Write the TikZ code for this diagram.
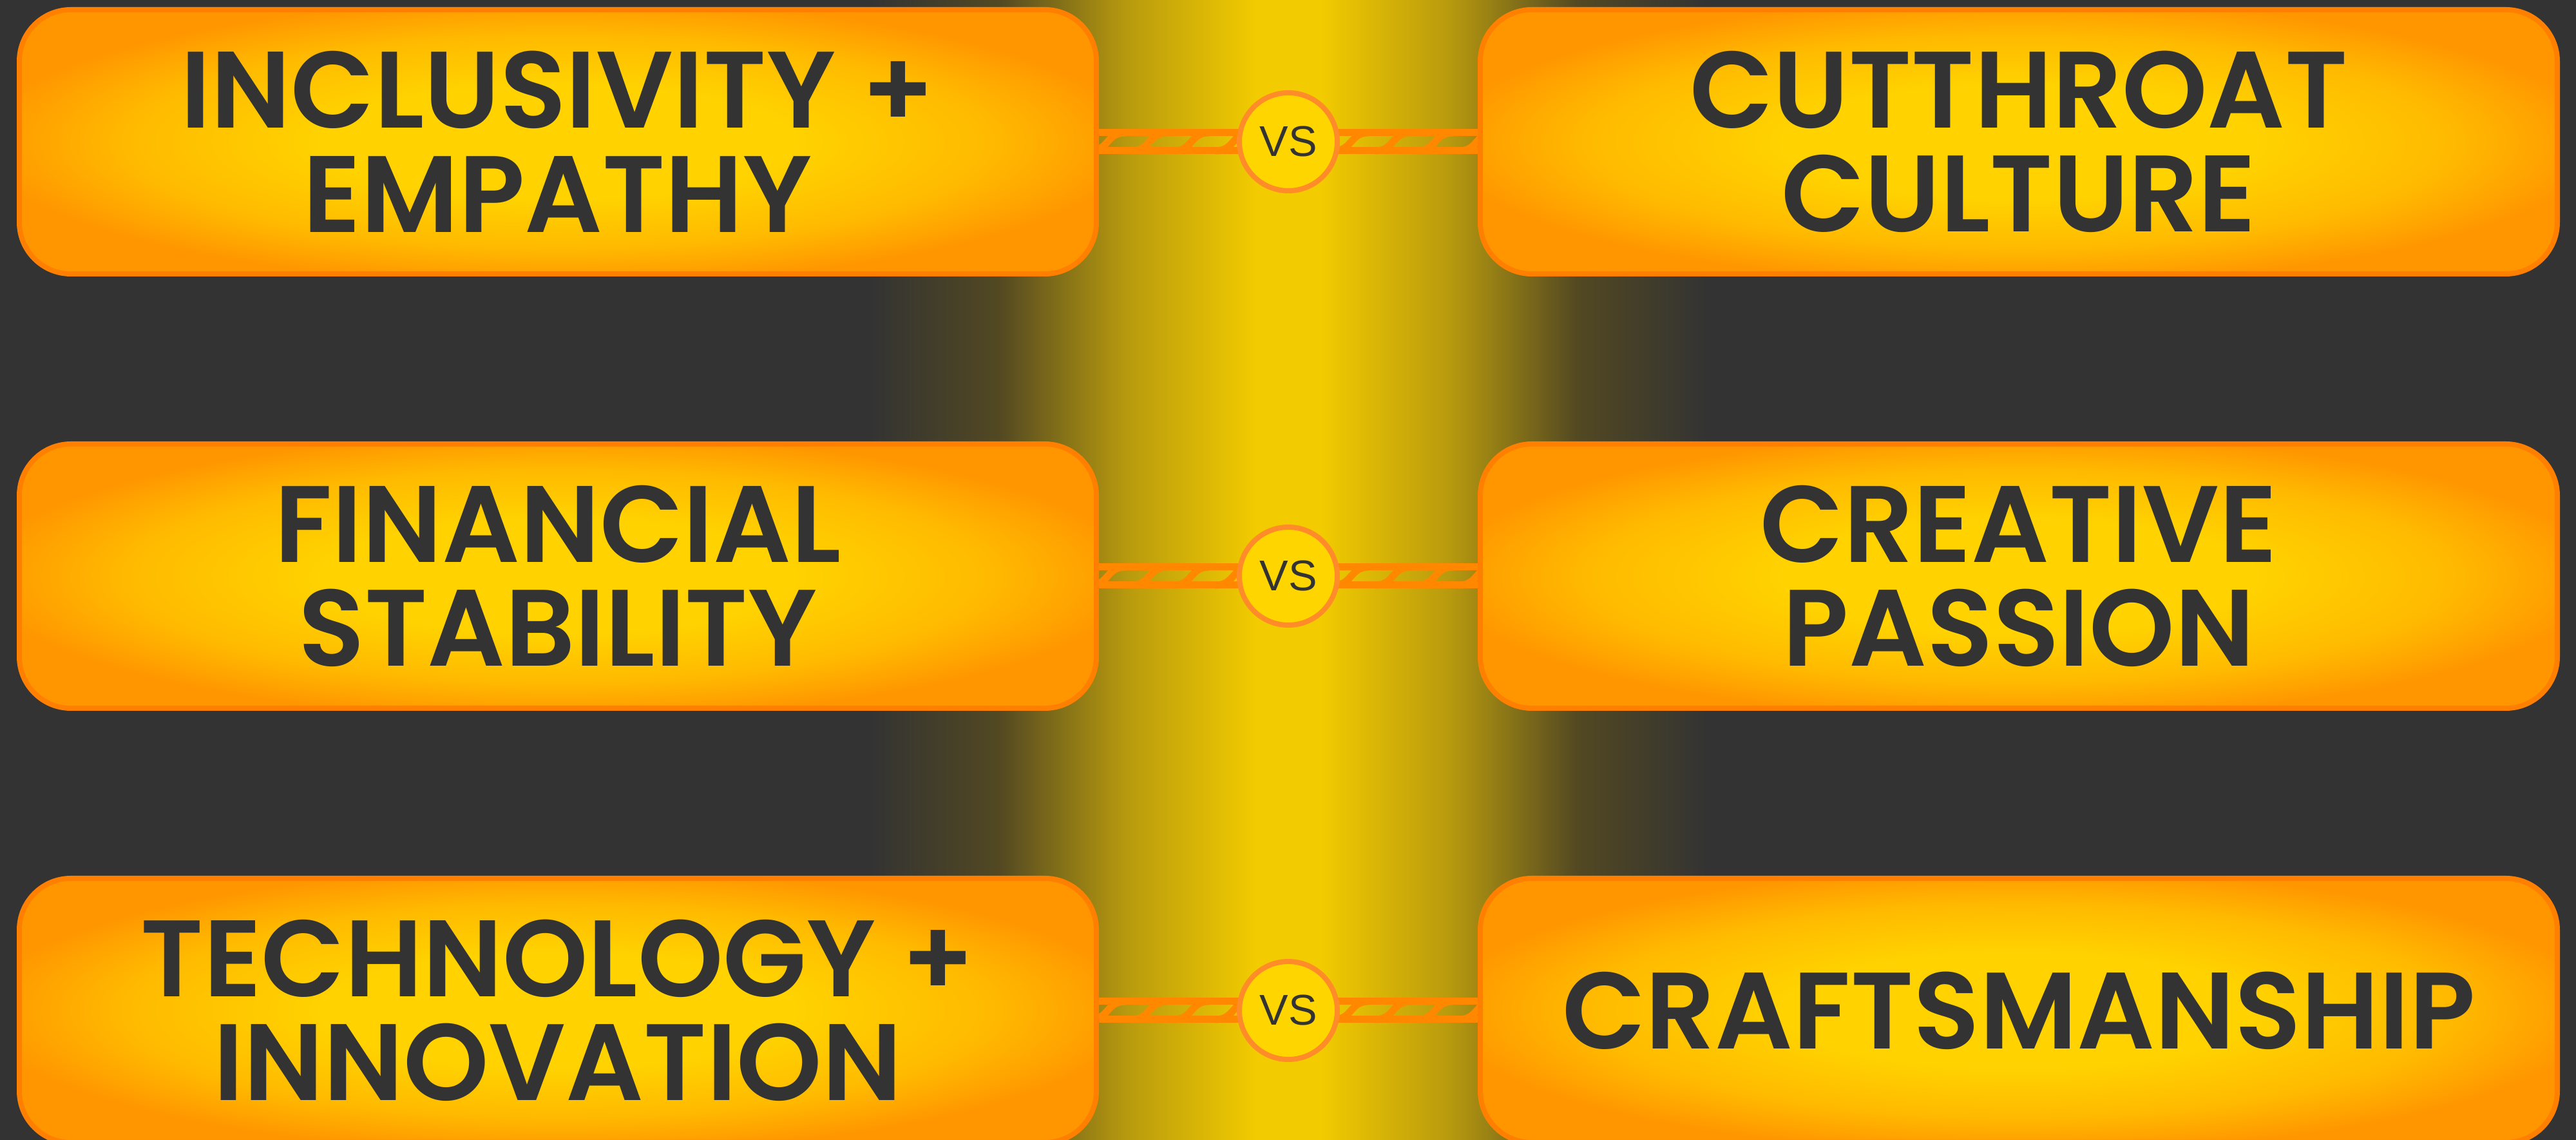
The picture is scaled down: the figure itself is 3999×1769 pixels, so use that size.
\documentclass[tikz,border=0pt]{standalone}
\usepackage{fontspec}
\usetikzlibrary{positioning,calc}
\newfontfamily\cardfont{Poppins}[UprightFont=* SemiBold]
\newfontfamily\vsfont{Liberation Sans}
\definecolor{bgdark}{RGB}{51,51,51}
\definecolor{bandlow}{RGB}{82,72,34}
\definecolor{bandmid}{RGB}{184,154,14}
\definecolor{bandgold}{RGB}{242,203,0}
\definecolor{cardgold}{RGB}{255,210,0}
\definecolor{cardmid}{RGB}{255,186,0}
\definecolor{cardorange}{RGB}{255,150,0}
\definecolor{cardedge}{RGB}{255,128,0}
\definecolor{ropeorange}{RGB}{255,136,0}
\definecolor{ringedge}{RGB}{255,140,40}
\definecolor{ringfill}{RGB}{255,213,0}
\definecolor{inkgray}{RGB}{51,51,51}

\pgfdeclareradialshading{cardglow}{\pgfpoint{0bp}{0bp}}{%
  color(0bp)=(cardgold); color(11bp)=(cardgold); color(20bp)=(cardmid);
  color(27bp)=(cardorange); color(50bp)=(cardorange)}
\pgfdeclarelayer{back}
\pgfdeclarelayer{ropes}
\pgfsetlayers{back,ropes,main}

\tikzset{
  card/.style={draw=cardedge,line width=0.8mm,rounded corners=8mm,
    shading=cardglow,
    minimum width=167.2mm,minimum height=41mm,align=center,
    text=inkgray,font=\cardfont\fontsize{48}{46}\selectfont},
  vsring/.style={circle,draw=ringedge,line width=0.8mm,fill=ringfill,
    minimum size=15.2mm,inner sep=0pt,text=inkgray,
    font=\vsfont\fontsize{19}{19}\selectfont},
  strand/.style={draw=ropeorange,line width=1.1mm,line cap=round}
}

\begin{document}
\begin{tikzpicture}[x=0.1mm,y=-0.1mm]
  \useasboundingbox (0,0) rectangle (3999,1769);
  % backdrop and glow
  \begin{pgfonlayer}{back}
    \fill[bgdark] (0,0) rectangle (3999,1769);
    \shade[left color=bgdark,right color=bandlow] (1350,0) rectangle (1550,1769);
    \shade[left color=bandlow,right color=bandmid] (1550,0) rectangle (1750,1769);
    \shade[left color=bandmid,right color=bandgold] (1750,0) rectangle (1950,1769);
    \fill[bandgold] (1950,0) rectangle (2050,1769);
    \shade[left color=bandgold,right color=bandmid] (2050,0) rectangle (2250,1769);
    \shade[left color=bandmid,right color=bandlow] (2250,0) rectangle (2450,1769);
    \shade[left color=bandlow,right color=bgdark] (2450,0) rectangle (2650,1769);
  \end{pgfonlayer}

  % left column
  \node[card] (incl) at (866,220) {INCLUSIVITY +\\EMPATHY};
  \node[card,below=25.6mm of incl] (fin) {FINANCIAL\\STABILITY};
  \node[card,below=25.6mm of fin] (tech) {TECHNOLOGY +\\INNOVATION};

  % vs markers
  \node[vsring,right=21.4mm of incl] (vsA) {VS};
  \node[vsring,right=21.4mm of fin] (vsB) {VS};
  \node[vsring,right=21.4mm of tech] (vsC) {VS};

  % right column
  \node[card,right=21.4mm of vsA] (cut) {CUTTHROAT\\CULTURE};
  \node[card,right=21.4mm of vsB] (crea) {CREATIVE\\PASSION};
  \node[card,right=21.4mm of vsC] (craft) {CRAFTSMANSHIP};

  % twisted ropes
  \begin{pgfonlayer}{ropes}
  \foreach \lft/\mid/\rgt in {incl/vsA/cut,fin/vsB/crea,tech/vsC/craft}{
    \draw[strand] ($(\lft.east)+(-20,14)$) -- ($(\mid.center)+(0,14)$);
    \draw[strand] ($(\lft.east)+(-20,-14)$) -- ($(\mid.center)+(0,-14)$);
    \draw[strand] ($(\mid.center)+(0,14)$) -- ($(\rgt.west)+(20,14)$);
    \draw[strand] ($(\mid.center)+(0,-14)$) -- ($(\rgt.west)+(20,-14)$);
    \foreach \s in {-14,51,116,181}
      \draw[strand] ($(\lft.east)+(\s,14)$) .. controls +(30,0) and +(-30,0)
        .. ($(\lft.east)+(\s+55,-14)$);
    \foreach \s in {-10,55,120,185}
      \draw[strand] ($(\mid.east)+(\s,14)$) .. controls +(30,0) and +(-30,0)
        .. ($(\mid.east)+(\s+55,-14)$);
  }
  \end{pgfonlayer}
\end{tikzpicture}
\end{document}
